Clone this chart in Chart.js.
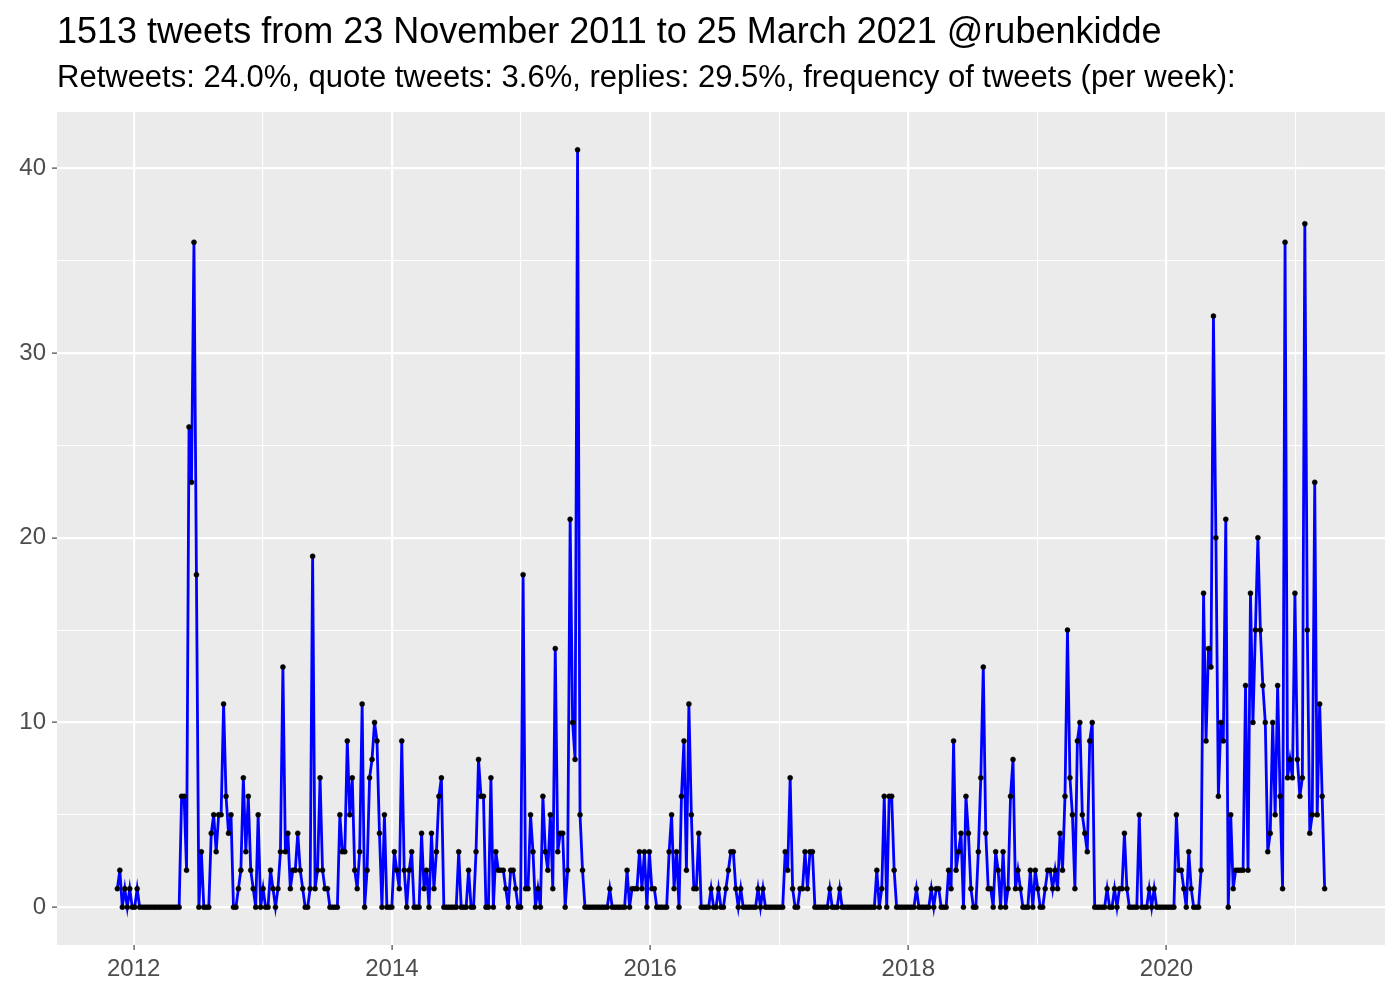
<!DOCTYPE html>
<html>
<head>
<meta charset="utf-8">
<script src="https://cdn.jsdelivr.net/npm/chart.js@4.4.1/dist/chart.umd.min.js"></script>
<style>
  html, body { margin: 0; padding: 0; background: #fff; }
  #wrap { width: 1400px; height: 1000px; }
</style>
</head>
<body>
<div id="wrap"><canvas id="chart" width="1400" height="1000"></canvas></div>
<script>
const titleText = '1513 tweets from 23 November 2011 to 25 March 2021 @rubenkidde';
const subtitleText = 'Retweets: 24.0%, quote tweets: 3.6%, replies: 29.5%, frequency of tweets (per week):';

// one value per week, starting at this week
const firstWeek = '2011-11-16';
const tweetsPerWeek = [
  1,2,0,1,0,1,0,0,1,
  0,0,0,0,0,0,0,0,0,0,0,0,0,0,0,0,0,
  6,6,2,26,23,36,18,
  0,3,0,0,0,4,5,3,5,5,11,
  6,4,5,0,0,1,2,7,3,6,2,1,0,5,0,1,0,0,2,1,0,1,3,13,
  3,4,1,2,2,4,2,1,0,0,1,19,1,2,7,
  2,1,1,0,0,0,0,5,3,3,9,5,7,2,1,3,11,0,2,7,8,10,9,4,0,5,0,0,0,3,2,1,9,
  2,0,2,3,0,0,0,4,1,2,0,4,1,3,6,7,
  0,0,0,0,0,0,
  3,0,0,0,2,0,0,3,8,6,6,0,0,7,0,3,2,2,2,1,0,2,2,1,0,0,18,
  1,1,5,3,0,1,0,6,3,2,5,1,14,3,4,4,0,2,21,10,8,41,5,2,
  0,0,0,0,0,0,0,0,0,0,
  1,
  0,0,0,0,0,0,
  2,0,1,1,1,3,1,3,0,3,1,1,0,0,0,0,0,3,5,1,3,0,6,9,2,11,
  5,1,1,4,0,0,0,0,1,0,0,1,0,0,1,2,3,3,1,0,1,0,
  0,0,0,0,0,
  1,0,1,
  0,0,0,0,0,0,0,0,
  3,2,7,1,0,0,1,1,3,1,3,3,0,0,0,0,0,0,1,0,0,0,1,
  0,0,0,0,0,0,0,0,0,0,0,0,0,0,
  2,0,1,6,0,6,6,2,
  0,0,0,0,0,0,0,0,
  1,
  0,0,0,0,0,
  1,0,1,1,0,0,0,2,1,9,2,
  3,4,0,6,4,1,0,0,3,7,13,4,1,1,0,3,2,0,3,0,1,6,8,1,2,1,0,0,0,2,0,2,1,0,0,1,2,2,1,2,1,4,
  2,6,15,7,5,1,9,10,5,4,3,9,10,
  0,0,0,0,0,
  1,0,0,1,0,1,1,4,1,0,0,0,0,5,0,0,0,1,0,1,
  0,0,0,0,0,0,0,0,
  5,2,2,1,0,3,1,0,0,0,2,17,9,14,13,32,20,6,10,9,21,0,5,1,2,2,2,2,12,2,
  17,10,15,20,15,12,10,3,4,10,5,12,6,1,36,7,8,7,17,8,6,7,37,15,4,5,23,5,11,6,1
];

const yearTicks = [2012, 2014, 2016, 2018, 2020];
const yearMinor = [2013, 2015, 2017, 2019, 2021];
const countTicks = [0, 10, 20, 30, 40];
const countMinor = [5, 15, 25, 35];

function decimalYear(d) {
  const y = d.getUTCFullYear();
  const a = Date.UTC(y, 0, 1), b = Date.UTC(y + 1, 0, 1);
  return y + (d.getTime() - a) / (b - a);
}

const start = new Date(firstWeek + 'T00:00:00Z');
const points = tweetsPerWeek.map((v, i) => {
  const d = new Date(start.getTime() + i * 7 * 86400000);
  return { x: decimalYear(d), y: v };
});

// ggplot style 5% padding
const xs = points.map(p => p.x);
const xMin = Math.min(...xs), xMax = Math.max(...xs);
const xPad = (xMax - xMin) * 0.05;
const yMax = Math.max(...tweetsPerWeek);
const yPad = yMax * 0.05;

const FONT = "'Liberation Sans', Arial, sans-serif";

const panelPlugin = {
  id: 'panel',
  beforeDraw(chart) {
    const { ctx, chartArea: a } = chart;
    ctx.save();
    ctx.fillStyle = '#ffffff';
    ctx.fillRect(0, 0, chart.width, chart.height);
    ctx.fillStyle = '#EBEBEB';
    ctx.fillRect(a.left, a.top, a.right - a.left, a.bottom - a.top);
    ctx.fillStyle = '#000000';
    ctx.textBaseline = 'alphabetic';
    ctx.textAlign = 'left';
    ctx.font = '36px ' + FONT;
    ctx.fillText(titleText, a.left, 43);
    ctx.font = '31px ' + FONT;
    ctx.fillText(subtitleText, a.left, 87);
    ctx.restore();
  }
};

function axisTicks(major, minor) {
  return axis => {
    axis.ticks = major.concat(minor).sort((a, b) => a - b).map(v => ({ value: v }));
  };
}

function gridFor(major) {
  return {
    color: '#ffffff',
    lineWidth: c => (c.tick && major.includes(c.tick.value)) ? 2.2 : 1.1,
    tickColor: c => (c.tick && major.includes(c.tick.value)) ? '#333333' : 'rgba(0,0,0,0)',
    tickLength: 5,
    tickWidth: 1.1,
    drawTicks: true
  };
}

new Chart(document.getElementById('chart'), {
  type: 'line',
  data: {
    datasets: [{
      data: points,
      borderColor: '#0000FF',
      borderWidth: 2.8,
      pointRadius: 2.5,
      pointBackgroundColor: '#000000',
      pointBorderColor: '#000000',
      pointBorderWidth: 0.5,
      tension: 0
    }]
  },
  options: {
    responsive: false,
    animation: false,
    layout: { padding: { top: 112, right: 15, left: 0, bottom: 0 } },
    plugins: { legend: { display: false }, tooltip: { enabled: false } },
    scales: {
      x: {
        type: 'linear',
        min: xMin - xPad,
        max: xMax + xPad,
        afterBuildTicks: axisTicks(yearTicks, yearMinor),
        afterFit: s => { s.height = 55; },
        grid: gridFor(yearTicks),
        border: { display: false },
        ticks: {
          autoSkip: false,
          maxRotation: 0,
          padding: 5,
          color: '#4D4D4D',
          font: { family: FONT, size: 24 },
          callback: v => yearTicks.includes(v) ? String(v) : ''
        }
      },
      y: {
        min: -yPad,
        max: yMax + yPad,
        afterBuildTicks: axisTicks(countTicks, countMinor),
        afterFit: s => { s.width = 57; },
        grid: gridFor(countTicks),
        border: { display: false },
        ticks: {
          autoSkip: false,
          padding: 6,
          color: '#4D4D4D',
          font: { family: FONT, size: 24 },
          callback: v => countTicks.includes(v) ? String(v) : ''
        }
      }
    }
  },
  plugins: [panelPlugin]
});
</script>
</body>
</html>
